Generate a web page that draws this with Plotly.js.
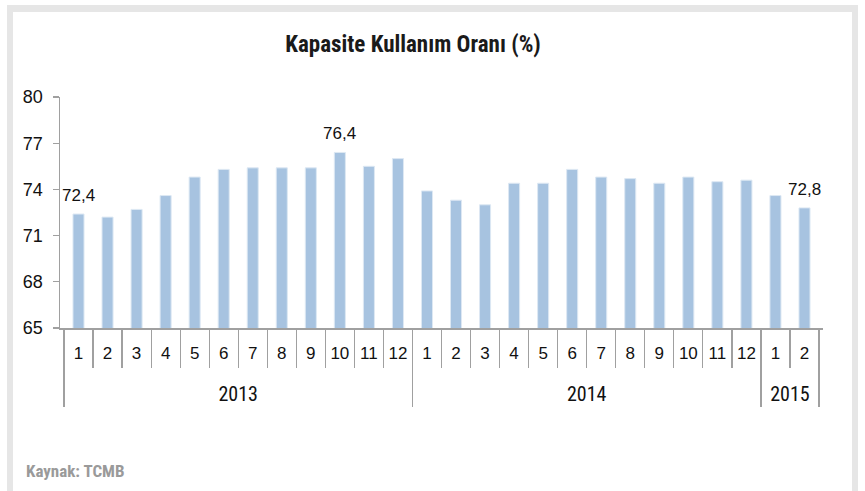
<!DOCTYPE html>
<html>
<head>
<meta charset="utf-8">
<script src="https://cdn.plot.ly/plotly-3.0.1.min.js"></script>
<style>
  html, body { margin: 0; padding: 0; background: #ffffff; width: 865px; height: 491px; overflow: hidden; }
  #frame { position: absolute; left: 7px; top: 5px; width: 839px; height: 520px;
           border-left: 6px solid #e6e6e6; border-right: 6px solid #e6e6e6; border-top: 7px solid #e6e6e6;
           background: #ffffff; z-index: 0; }
  #chart { position: absolute; left: 0; top: 0; width: 865px; height: 491px; z-index: 1; }
</style>
</head>
<body>
<div id="frame"></div>
<div id="chart"></div>
<script>
// Data
const years  = ['2013','2013','2013','2013','2013','2013','2013','2013','2013','2013','2013','2013',
                '2014','2014','2014','2014','2014','2014','2014','2014','2014','2014','2014','2014',
                '2015','2015'];
const months = ['1','2','3','4','5','6','7','8','9','10','11','12',
                '1','2','3','4','5','6','7','8','9','10','11','12',
                '1','2'];
const values = [72.4, 72.2, 72.7, 73.6, 74.8, 75.3, 75.4, 75.4, 75.4, 76.4, 75.5, 76.0,
                73.9, 73.3, 73.0, 74.4, 74.4, 75.3, 74.8, 74.7, 74.4, 74.8, 74.5, 74.6,
                73.6, 72.8];
const labelledIdx = [0, 9, 25];
const yTicks = [65, 68, 71, 74, 77, 80];
const titleText = 'Kapasite Kullanım Oranı (%)';
const sourceText = 'Kaynak: TCMB';

const condensed = 'Roboto Condensed, Open Sans, sans-serif';
const regular = 'Liberation Sans, Arial, sans-serif';

// year labels pushed one line lower so they sit below the month labels
const yearLabels = years.map(y => '<br><span style="font-family:Roboto Condensed;font-size:20px;baseline-shift:-8px">' + y + '</span>');

const trace = {
  type: 'bar',
  x: [yearLabels, months],
  y: values,
  marker: { color: '#a7c3e0', line: { color: '#dde8f3', width: 1 } },
  hoverinfo: 'skip'
};

const fmt = v => v.toFixed(1).replace('.', ',');
const annotations = labelledIdx.map(i => ({
  x: i, xref: 'x', y: values[i], yref: 'y',
  text: fmt(values[i]), showarrow: false,
  yanchor: 'bottom', yshift: 7,
  font: { family: regular, size: 17, color: '#111111' }
}));
annotations.push({
  text: sourceText, showarrow: false,
  xref: 'paper', x: -0.0478, xanchor: 'left',
  yref: 'paper', y: -0.621, yanchor: 'middle',
  font: { family: condensed, size: 17, color: '#9a9a9a', weight: 'bold' }
});

const layout = {
  width: 865, height: 491,
  paper_bgcolor: 'rgba(0,0,0,0)',
  plot_bgcolor: 'rgba(0,0,0,0)',
  margin: { l: 59.5, r: 42, t: 97, b: 163 },
  showlegend: false,
  bargap: 0.62,
  title: {
    text: titleText,
    xref: 'container', x: 0.4775, xanchor: 'center',
    yref: 'container', y: 0.910, yanchor: 'middle',
    font: { family: condensed, size: 23, color: '#1a1a1a', weight: 'bold' }
  },
  xaxis: {
    type: 'multicategory',
    showline: true, linecolor: '#a0a0a0', linewidth: 1.5,
    ticks: 'outside', tickson: 'boundaries', ticklen: 38, tickcolor: '#a0a0a0', tickwidth: 1.2,
    ticklabelstandoff: 9,
    showdividers: true, dividercolor: '#a0a0a0', dividerwidth: 1.2,
    tickfont: { family: regular, size: 17, color: '#111111' },
    showgrid: false, zeroline: false, fixedrange: true
  },
  yaxis: {
    range: [65, 80],
    tickvals: yTicks,
    ticktext: yTicks.map(String),
    showline: true, linecolor: '#a0a0a0', linewidth: 1.5,
    ticks: 'outside', ticklen: 6, tickcolor: '#a0a0a0', tickwidth: 1.2,
    ticklabelstandoff: 6,
    tickfont: { family: regular, size: 18, color: '#111111' },
    showgrid: false, zeroline: false, fixedrange: true
  },
  annotations: annotations
};

Plotly.newPlot('chart', [trace], layout, { displayModeBar: false, staticPlot: true });
</script>
</body>
</html>
